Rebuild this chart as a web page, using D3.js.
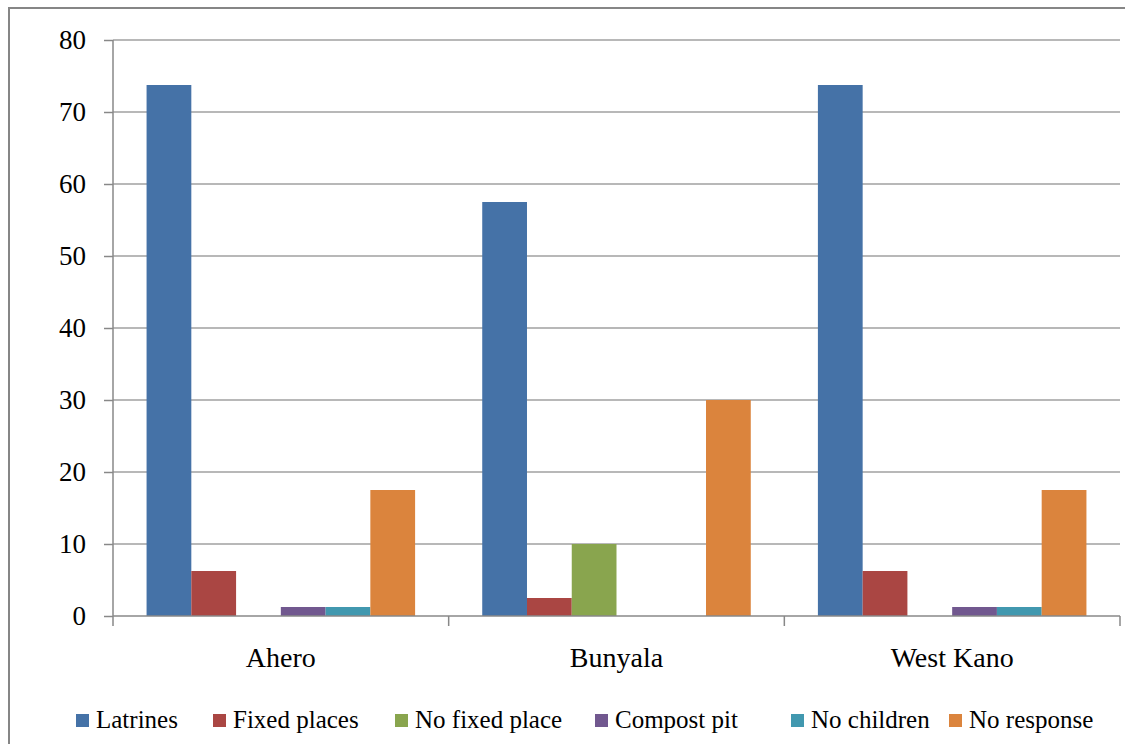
<!DOCTYPE html>
<html>
<head>
<meta charset="utf-8">
<script src="https://cdn.jsdelivr.net/npm/d3@7"></script>
<style>
  body { margin: 0; background: #fff; }
  svg text { font-family: "Liberation Serif", "Times New Roman", Times, "DejaVu Serif", serif; fill: #000; }
</style>
</head>
<body>
<script>
var svgWidth = 1125;
var svgHeight = 744;

// data (percent of respondents)
var categories = ["Ahero", "Bunyala", "West Kano"];
var seriesNames = ["Latrines", "Fixed places", "No fixed place", "Compost pit", "No children", "No response"];
var seriesColors = ["#4572A7", "#AA4643", "#89A54E", "#71588F", "#4198AF", "#DB843D"];
var latrines = [73.75, 57.5, 73.75];
var fixedPlaces = [6.25, 2.5, 6.25];
var noFixedPlace = [0, 10, 0];
var compostPit = [1.25, 0, 1.25];
var noChildren = [1.25, 0, 1.25];
var noResponse = [17.5, 30, 17.5];
var yTicks = [0, 10, 20, 30, 40, 50, 60, 70, 80];

var seriesValues = [latrines, fixedPlaces, noFixedPlace, compostPit, noChildren, noResponse];
var serifFont = '"Liberation Serif", "Times New Roman", Times, "DejaVu Serif", serif';

var margin = { top: 40, right: 5, bottom: 128, left: 113 };
var chartWidth = 1120 - margin.left;
var chartHeight = 616 - margin.top;

var svg = d3.select("body")
    .append("svg")
    .attr("width", svgWidth)
    .attr("height", svgHeight)
    .style("font-family", serifFont);

// outer frame
svg.append("rect")
    .attr("x", 9)
    .attr("y", 8)
    .attr("width", 1130)
    .attr("height", 760)
    .attr("fill", "none")
    .attr("stroke", "#868686")
    .attr("stroke-width", 2);

var chartGroup = svg.append("g")
    .attr("transform", `translate(${margin.left}, ${margin.top})`);

var x0 = d3.scaleBand()
    .domain(categories)
    .range([0, chartWidth]);

var gap = x0.bandwidth() * 0.1;
var x1 = d3.scaleBand()
    .domain(seriesNames)
    .range([gap, x0.bandwidth() - gap]);

var yLinearScale = d3.scaleLinear()
    .domain([0, 80])
    .range([chartHeight, 0]);

// left ticks + labels
var leftAxis = d3.axisLeft(yLinearScale)
    .tickValues(yTicks)
    .tickSize(9)
    .tickPadding(18);

var yAxis = chartGroup.append("g")
    .call(leftAxis)
    .attr("font-family", null);
yAxis.select(".domain").remove();
yAxis.selectAll(".tick line").attr("stroke", "#888").attr("stroke-width", 1.5);
yAxis.selectAll(".tick text")
    .attr("font-size", 27)
    .style("font-family", serifFont);

// gridlines
chartGroup.append("g")
    .selectAll("line")
    .data(yTicks.filter(d => d > 0))
    .enter()
    .append("line")
    .attr("x1", 0)
    .attr("x2", chartWidth)
    .attr("y1", d => yLinearScale(d))
    .attr("y2", d => yLinearScale(d))
    .attr("stroke", "#a0a0a0")
    .attr("stroke-width", 1.5);

// bars
var groups = chartGroup.selectAll(".cat")
    .data(categories)
    .enter()
    .append("g")
    .attr("transform", d => `translate(${x0(d)}, 0)`);

groups.selectAll("rect")
    .data((c, ci) => seriesNames.map((s, si) => ({ s: s, color: seriesColors[si], v: seriesValues[si][ci] })))
    .enter()
    .append("rect")
    .attr("x", d => x1(d.s))
    .attr("width", x1.bandwidth())
    .attr("y", d => yLinearScale(d.v))
    .attr("height", d => chartHeight - yLinearScale(d.v))
    .attr("fill", d => d.color);

// y axis line
chartGroup.append("line")
    .attr("x1", 0).attr("x2", 0)
    .attr("y1", 0).attr("y2", chartHeight)
    .attr("stroke", "#888").attr("stroke-width", 1.5);

// x axis
chartGroup.append("line")
    .attr("x1", 0).attr("x2", chartWidth)
    .attr("y1", chartHeight).attr("y2", chartHeight)
    .attr("stroke", "#888").attr("stroke-width", 1.5);

var boundaries = categories.map(c => x0(c)).concat([chartWidth]);
chartGroup.selectAll(".xtick")
    .data(boundaries)
    .enter()
    .append("line")
    .attr("x1", d => d).attr("x2", d => d)
    .attr("y1", chartHeight).attr("y2", chartHeight + 10)
    .attr("stroke", "#888").attr("stroke-width", 1.5);

chartGroup.selectAll(".xlabel")
    .data(categories)
    .enter()
    .append("text")
    .attr("x", d => x0(d) + x0.bandwidth() / 2)
    .attr("y", chartHeight + 51)
    .attr("text-anchor", "middle")
    .attr("font-size", 28)
    .style("font-family", serifFont)
    .text(d => d);

// legend
var legendX = [76, 213, 395, 595, 791, 949];
var legend = svg.append("g");
var items = legend.selectAll("g")
    .data(seriesNames)
    .enter()
    .append("g")
    .attr("transform", (d, i) => `translate(${legendX[i]}, 714)`);

items.append("rect")
    .attr("width", 13)
    .attr("height", 13)
    .attr("fill", (d, i) => seriesColors[i]);

items.append("text")
    .attr("x", 20)
    .attr("y", 14)
    .attr("font-size", 25)
    .style("font-family", serifFont)
    .text(d => d);
</script>
</body>
</html>
